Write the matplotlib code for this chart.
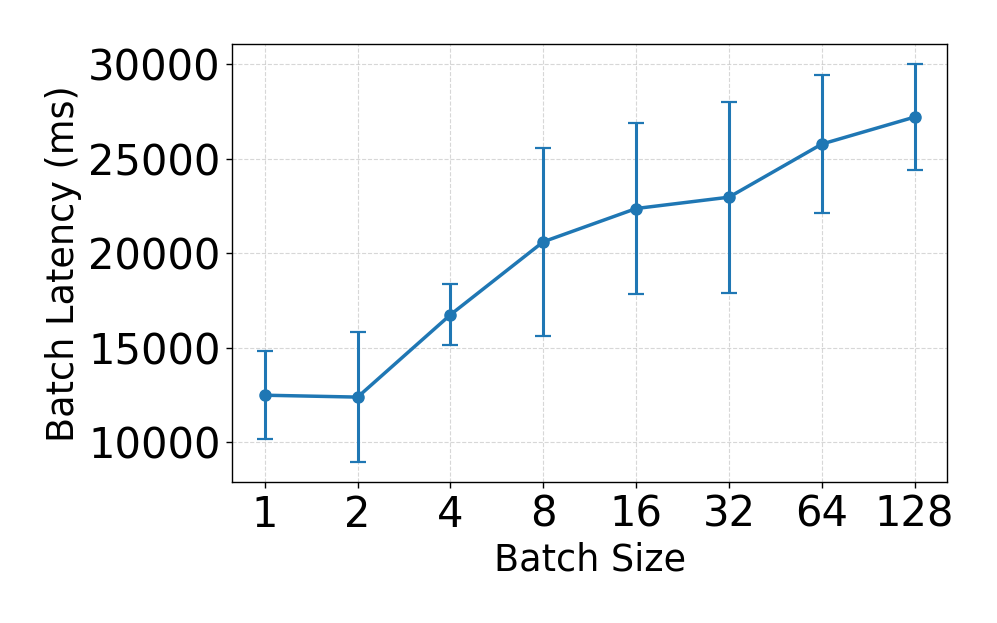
import matplotlib
matplotlib.use("Agg")
import matplotlib.pyplot as plt

# Data
batch_sizes = ["1", "2", "4", "8", "16", "32", "64", "128"]
latency_ms = [12480, 12380, 16740, 20600, 22360, 22960, 25770, 27200]
latency_std = [2340, 3450, 1600, 4980, 4520, 5050, 3670, 2800]

fig, ax = plt.subplots(figsize=(9.97, 6.23), dpi=100)
x = list(range(len(batch_sizes)))
ax.errorbar(x, latency_ms, yerr=latency_std, fmt="-o", color="#1f77b4",
            linewidth=2.5, markersize=8, elinewidth=2.2, capsize=6, capthick=1.6)

ax.set_xticks(x)
ax.set_xticklabels(batch_sizes)
ax.set_xlabel("Batch Size", fontsize=26.4)
ax.set_ylabel("Batch Latency (ms)", fontsize=26.4)
ax.tick_params(axis="both", labelsize=30, length=4.2, width=1.0, pad=4.2)
for s in ax.spines.values():
    s.set_linewidth(1.0)
ax.grid(True, linestyle="--", alpha=0.5)

fig.subplots_adjust(left=0.233, right=0.950, top=0.929, bottom=0.226)
fig.savefig("out.png", dpi=100)
